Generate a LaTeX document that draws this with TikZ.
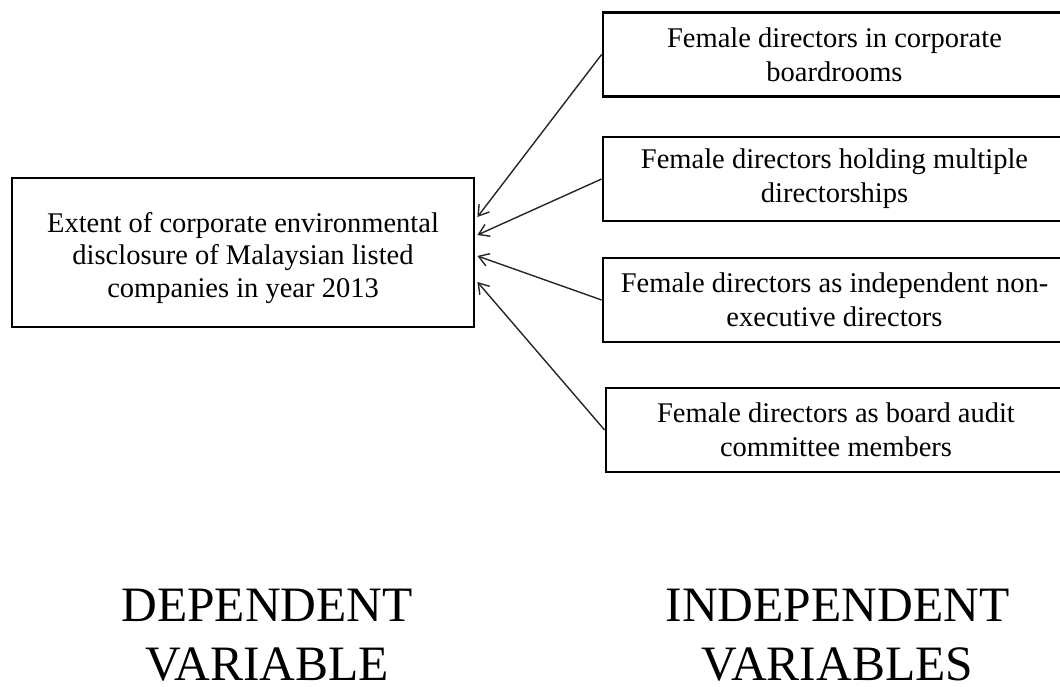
\documentclass[tikz,border=0pt]{standalone}
\usepackage{fontspec}
\setmainfont{Liberation Serif}
\usetikzlibrary{arrows.meta,calc}
\begin{document}
\begin{tikzpicture}[x=1pt,y=1pt,
  varbox/.style={draw=black,line width=2.8pt,inner sep=0pt,align=center,
    font=\fontsize{28.5}{34}\selectfont,minimum height=84pt},
  link/.style={line width=1.4pt,draw=black!85,-{Straight Barb[length=10pt,width=13pt,line width=1.4pt]}},
  caption/.style={align=center,font=\fontsize{49.5}{59}\selectfont,anchor=base,inner sep=0pt}]
\useasboundingbox (0,0) rectangle (1060,687);
\node[varbox,minimum width=462pt,minimum height=149pt,font=\fontsize{28.5}{32.5}\selectfont] (dep) at (243,434.5)
  {\rule{0pt}{31pt}Extent of corporate environmental\\disclosure of Malaysian listed\\companies in year 2013};
\node[varbox,minimum width=463pt] (i1) at (834.5,632.5) {Female directors in corporate\\boardrooms};
\node[varbox,minimum width=463pt] (i2) at (834.5,508) {Female directors holding multiple\\directorships};
\node[varbox,minimum width=463pt] (i3) at (834.5,387) {Female directors as independent non-\\executive directors};
\node[varbox,minimum width=460pt] (i4) at (836,257) {Female directors as board audit\\committee members};
\coordinate (t1) at ($(dep.east)+(2,35.5)$);
\coordinate (t2) at ($(dep.east)+(2,17.5)$);
\coordinate (t3) at ($(dep.east)+(2,-3.5)$);
\coordinate (t4) at ($(dep.east)+(2,-29.5)$);
\draw[link] (i1.west) -- (t1);
\draw[link] (i2.west) -- (t2);
\draw[link] (i3.west) -- (t3);
\draw[link] (i4.west) -- (t4);
\node[caption] (cd) at (267,6) {DEPENDENT\\VARIABLE};
\node[caption] (ci) at (837.5,6) {INDEPENDENT\\VARIABLES};
\end{tikzpicture}
\end{document}
